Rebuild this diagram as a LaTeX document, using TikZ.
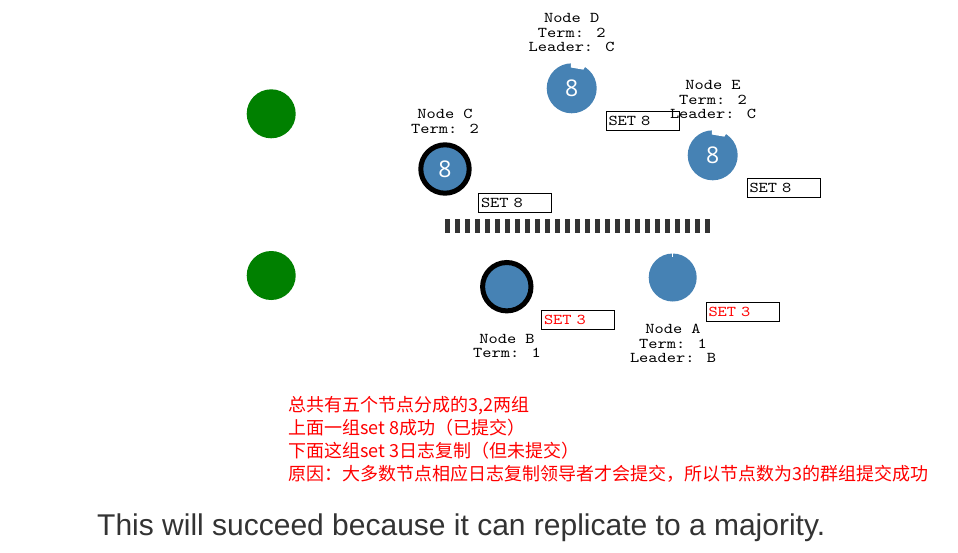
\documentclass[tikz,border=0pt]{standalone}
\usepackage{fontspec}
\setmainfont{Liberation Sans}
\newfontfamily\courierlike{lmmono10-regular.otf}[FakeStretch=1.17]
\newfontfamily\cjk{Noto Sans CJK SC}
\newfontfamily\digitfont{Open Sans}
\usetikzlibrary{calc}
\definecolor{steel}{HTML}{4682B4}
\definecolor{leafgreen}{HTML}{008000}
\definecolor{darkbar}{HTML}{333333}
\definecolor{notered}{HTML}{FF0000}
\definecolor{captiongray}{HTML}{333333}
\begin{document}
\begin{tikzpicture}[x=1pt,y=-1pt,
  monolbl/.style={align=center, inner sep=0pt, font=\courierlike\fontsize{15}{14.5}\selectfont},
  setbox/.style={draw=black, line width=1pt, minimum height=19pt, text width=68pt, inner xsep=2.5pt, inner ysep=0pt, align=left, font=\courierlike\fontsize{15}{15}\selectfont},
  bluenode/.style={circle, fill=steel, inner sep=0pt, minimum size=#1, text=white, font=\digitfont\fontsize{23}{23}\selectfont},
  leadernode/.style={circle, fill=steel, draw=black, line width=5pt, inner sep=0pt, minimum size=48.4pt, text=white, font=\digitfont\fontsize{23}{23}\selectfont},
  greennode/.style={circle, fill=leafgreen, inner sep=0pt, minimum size=49pt},
  notelbl/.style={anchor=base west, inner sep=0pt, text=notered, font=\cjk\fontsize{18}{18}\selectfont},
  notch/.style={fill=white}
]
\useasboundingbox (0,0) rectangle (958,552);

% green nodes
\node[greennode] (g1) at (271.2,113.8) {};
\node[greennode] (g2) at (271.2,275.5) {};

% upper group
\node[leadernode] (c) at (445,169) {8};
\node[bluenode=50pt] (d) at (571.7,88.3) {8};
\node[bluenode=50pt] (e) at (712.7,155.3) {8};
\fill[notch, shift={(d.center)}] (92:20.8pt) -- (58:22pt) -- (58:26pt) arc[start angle=58, end angle=92, radius=26pt] -- cycle;
\fill[notch, shift={(e.center)}] (92:20.8pt) -- (58:22pt) -- (58:26pt) arc[start angle=58, end angle=92, radius=26pt] -- cycle;

\node[monolbl] (dl) at (571.7,32.75) {Node D\\Term: 2\\Leader: C};
\node[monolbl] (cl) at (445,121.5) {Node C\\Term: 2};
\node[monolbl] (el) at (713,99.75) {Node E\\Term: 2\\Leader: C};

\node[setbox] (cs) at (515,202.5) {SET 8};
\node[setbox] (ds) at (642.5,121) {SET 8};
\node[setbox] (es) at (783.5,188) {SET 8};

% partition
\coordinate (p1) at (445,226.3);
\coordinate (p2) at (710,226.3);
\draw[darkbar, line width=14pt, dash pattern=on 5pt off 5pt] (p1) -- (p2);

% lower group
\node[leadernode] (b) at (506.8,286.7) {};
\node[bluenode=48pt] (a) at (672.7,277.5) {};
\draw[white, line width=1pt, shift={(a.center)}] (90:21pt) -- (90:24.5pt);

\node[monolbl] (bl) at (507,346) {Node B\\Term: 1};
\node[monolbl] (al) at (673,343.5) {Node A\\Term: 1\\Leader: B};

\node[setbox, text=notered] (bs) at (578,320) {SET 3};
\node[setbox, text=notered] (as) at (742.5,311.5) {SET 3};

% notes
\node[notelbl] (n1) at (288,411) {总共有五个节点分成的3,2两组};
\node[notelbl] (n2) at (288,434) {上面一组set 8成功（已提交）};
\node[notelbl] (n3) at (288,457) {下面这组set 3日志复制（但未提交）};
\node[notelbl] (n4) at (288,480) {原因：大多数节点相应日志复制领导者才会提交，所以节点数为3的群组提交成功};

\node[anchor=base west, inner sep=0pt, text=captiongray, font=\fontsize{30}{30}\selectfont] (cap) at (97,535) {This will succeed because it can replicate to a majority.};
\end{tikzpicture}
\end{document}
